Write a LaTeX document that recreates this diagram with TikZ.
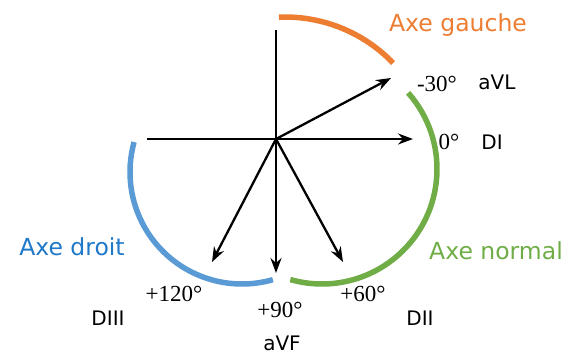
\documentclass[tikz,border=0pt]{standalone}
\usepackage{fontspec}
\setmainfont{Liberation Serif}
\newfontfamily\handfont{DejaVu Sans}
\usepackage{xcolor}
\usepackage{tikz}
\usetikzlibrary{arrows.meta}

\definecolor{gaucheorange}{HTML}{ED7D31}
\definecolor{droitblue}{HTML}{5B9BD5}
\definecolor{droittext}{HTML}{1F78C8}
\definecolor{normalgreen}{HTML}{70AD47}

\begin{document}
\begin{tikzpicture}[x=1pt, y=-1pt,
  vec/.style={line width=2.3pt, -{Stealth[length=15pt, width=11pt, inset=5pt]}},
  zone/.style={line width=5.5pt},
  angl/.style={font=\fontsize{23}{26}\selectfont, inner sep=0pt},
  lead/.style={font=\handfont\fontsize{20}{23}\selectfont, inner sep=0pt},
  axe/.style={font=\handfont\fontsize{23.5}{26}\selectfont, inner sep=0pt}
]
\useasboundingbox (0,0) rectangle (565,354);

% centre and vector ends
\coordinate (O) at (276,139);
\coordinate (top) at (276,30);
\coordinate (left) at (147,139);
\coordinate (e0) at (413,139);
\coordinate (e30) at (391,78);
\coordinate (e60) at (343,262);
\coordinate (e90) at (276,273);
\coordinate (e120) at (212,262);

% arcs
\coordinate (cg) at (285,167);
\coordinate (cd) at (242,172);
\coordinate (cn) at (322,169);
\draw[zone, gaucheorange] (cg) ++(-92.3:150) arc[start angle=-92.3, end angle=-43.9, radius=150];
\draw[zone, droitblue] (cd) ++(195.5:112) arc[start angle=195.5, end angle=74, radius=112];
\draw[zone, normalgreen] (cn) ++(-41.5:115) arc[start angle=-41.5, end angle=106, radius=115];

% axes and vectors
\draw[line width=2.3pt] (top) -- (O);
\draw[vec] (left) -- (e0);
\draw[vec] (O) -- (e30);
\draw[vec] (O) -- (e60);
\draw[vec] (O) -- (e90);
\draw[vec] (O) -- (e120);

% labels
\node[angl] (m30) at (437,84) {-30°};
\node[lead] (avl) at (497,82) {aVL};
\node[angl] (z0) at (449,142) {0°};
\node[lead] (di) at (492,142) {DI};
\node[angl] (p60) at (363,294) {+60°};
\node[lead] (dii) at (420,318) {DII};
\node[angl] (p90) at (280,310) {+90°};
\node[lead] (avf) at (282,343) {aVF};
\node[angl] (p120) at (174,294) {+120°};
\node[lead] (diii) at (108,318) {DIII};

\node[axe, text=gaucheorange] (gauche) at (458,25) {Axe gauche};
\node[axe, text=droittext] (droit) at (72,247) {Axe droit};
\node[axe, text=normalgreen] (normal) at (496,251) {Axe normal};
\end{tikzpicture}
\end{document}
